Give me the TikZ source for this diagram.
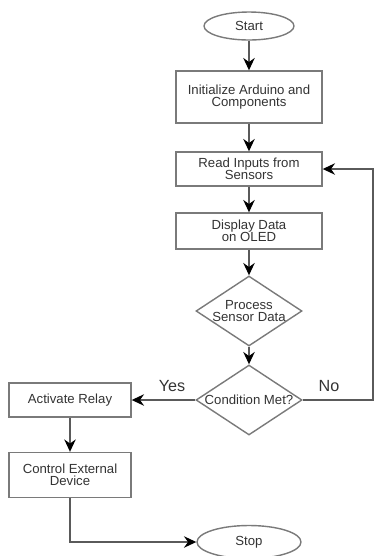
\documentclass[tikz,border=0pt]{standalone}
\usepackage{fontspec}
\setmainfont{Liberation Sans}
\usetikzlibrary{shapes.geometric,arrows.meta}
\definecolor{linegray}{HTML}{5A5A5A}
\definecolor{boxgray}{HTML}{7A7A7A}
\definecolor{textgray}{HTML}{333333}
\begin{document}
\begin{tikzpicture}[x=0.02cm,y=-0.02cm,
        every node/.style={text=textgray,font=\fontsize{7.5}{7}\selectfont,align=center},
        process/.style={draw=boxgray,line width=0.8pt,rectangle,minimum width=2.92cm,inner sep=0pt},
        decision/.style={draw=boxgray,line width=0.8pt,diamond,minimum width=2.12cm,minimum height=1.4cm,inner sep=0pt},
        terminal/.style={draw=boxgray,line width=0.8pt,ellipse,inner sep=0pt},
        flow/.style={draw=linegray,line width=0.9pt,-{Stealth[black,length=7pt,width=6.5pt]}},
        answer/.style={font=\fontsize{9.2}{10}\selectfont}]
        \useasboundingbox (0,0) rectangle (374,556);
        \node [terminal,minimum width=1.8cm,minimum height=0.56cm] (start) at (249,26) {Start};
        \node [process,minimum height=1.04cm] (init) at (249,97) {Initialize Arduino and\\Components};
        \node [process,minimum height=0.68cm] (read) at (249,169) {Read Inputs from\\Sensors};
        \node [process,minimum height=0.72cm] (display) at (249,231) {Display Data\\on OLED};
        \node [decision,label={[align=center]center:Process\\Sensor Data}] (proc) at (249,311) {};
        \node [decision,label=center:Condition Met?] (cond) at (249,400) {};
        \node [process,minimum width=2.44cm,minimum height=0.68cm] (relay) at (70,400) {Activate Relay};
        \node [process,minimum width=2.44cm,minimum height=0.9cm] (device) at (70,475) {Control External\\Device};
        \node [terminal,minimum width=2.08cm,minimum height=0.66cm] (stop) at (249,542) {Stop};
        \node [answer] (yes) at (172,386) {Yes};
        \node [answer] (no) at (329,386) {No};
        \coordinate (c1) at (373,400);
        \coordinate (c2) at (373,169);
        \draw [flow] (start) -- (init);
        \draw [flow] (init) -- (read);
        \draw [flow] (read) -- (display);
        \draw [flow] (display) -- (proc);
        \draw [flow] (proc) -- (cond);
        \draw [flow] (cond) -- (relay);
        \draw [flow] (relay) -- (device);
        \draw [flow] (device.south) |- (stop.west);
        \draw [flow] (cond.east) -- (c1) -- (c2) -- (read.east);
    \end{tikzpicture}
\end{document}
